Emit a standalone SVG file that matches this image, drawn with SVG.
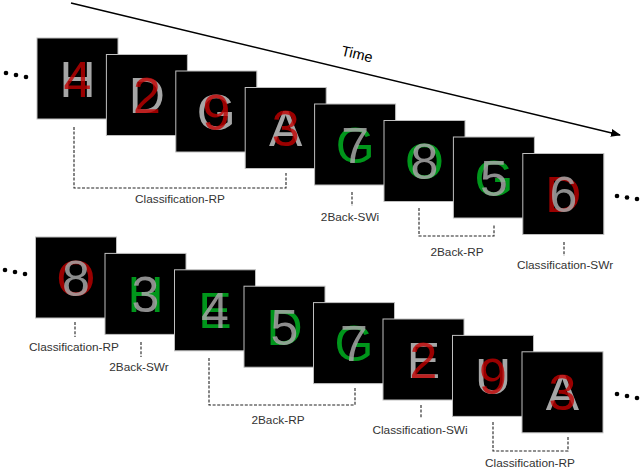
<svg xmlns="http://www.w3.org/2000/svg" width="641" height="471" viewBox="0 0 641 471">
<style>
.sq{fill:#000;stroke:#bfbfbf;stroke-width:1}
.g{font-family:"Liberation Sans",Arial,sans-serif;font-size:50px;fill:#a6a6a6;text-anchor:middle}
.r{font-family:"Liberation Sans",Arial,sans-serif;font-size:50px;fill:#c00000;fill-opacity:0.8;text-anchor:middle}
.gr{font-family:"Liberation Sans",Arial,sans-serif;font-size:50px;fill:#00b020;fill-opacity:0.85;text-anchor:middle}
.lbl{font-family:"Liberation Sans",Arial,sans-serif;font-size:11.8px;fill:#333;text-anchor:middle}
.d{fill:none;stroke:#222;stroke-width:1.1;stroke-dasharray:3,1.6}
.dot{fill:#000}
</style>
<defs>
<marker id="ah" markerWidth="10" markerHeight="8" refX="9" refY="4" orient="auto" markerUnits="userSpaceOnUse">
<path d="M0,0 L10,4 L0,8 z" fill="#000"/>
</marker>
</defs>
<rect width="641" height="471" fill="#fff"/>
<g id="time-arrow">
<line x1="71" y1="3" x2="620" y2="135" stroke="#000" stroke-width="1.5" marker-end="url(#ah)"/>
<text x="357" y="59" transform="rotate(13.5 357 54)" font-family="Liberation Sans,Arial,sans-serif" font-size="14.5" fill="#000" text-anchor="middle">Time</text>
</g>
<g id="dots">
<circle class="dot" cx="6" cy="73" r="2.3"/><circle class="dot" cx="16" cy="75" r="2.3"/><circle class="dot" cx="26" cy="77" r="2.3"/>
<circle class="dot" cx="617" cy="196" r="2.3"/><circle class="dot" cx="627" cy="197.5" r="2.3"/><circle class="dot" cx="637" cy="199" r="2.3"/>
<circle class="dot" cx="5" cy="270" r="2.3"/><circle class="dot" cx="15" cy="272" r="2.3"/><circle class="dot" cx="25" cy="274" r="2.3"/>
<circle class="dot" cx="617" cy="394" r="2.3"/><circle class="dot" cx="627" cy="396" r="2.3"/><circle class="dot" cx="637" cy="398" r="2.3"/>
</g>
<g id="t1"><rect class="sq" x="37" y="38" width="81" height="81"/><text class="g" x="77.5" y="96.5">H</text><text class="r" x="77.5" y="96.5">4</text></g>
<g id="t2"><rect class="sq" x="106.4" y="54.5" width="81" height="81"/><text class="g" x="146.9" y="113">D</text><text class="r" x="146.9" y="113">2</text></g>
<g id="t3"><rect class="sq" x="175.8" y="71" width="81" height="81"/><text class="g" x="216.3" y="129.5">G</text><text class="r" x="216.3" y="129.5">9</text></g>
<g id="t4"><rect class="sq" x="245.2" y="87.5" width="81" height="81"/><text class="g" x="285.7" y="146">A</text><text class="r" x="285.7" y="146">3</text></g>
<g id="t5"><rect class="sq" x="314.6" y="104" width="81" height="81"/><text class="gr" x="355.1" y="162.5">G</text><text class="g" x="355.1" y="162.5" fill-opacity="0.85">7</text></g>
<g id="t6"><rect class="sq" x="384" y="120.5" width="81" height="81"/><text class="gr" x="424.5" y="179">O</text><text class="g" x="424.5" y="179" fill-opacity="0.85">8</text></g>
<g id="t7"><rect class="sq" x="453.4" y="137" width="81" height="81"/><text class="gr" x="493.9" y="195.5">G</text><text class="g" x="493.9" y="195.5" fill-opacity="0.85">5</text></g>
<g id="t8"><rect class="sq" x="522.8" y="153.5" width="81" height="81"/><text class="r" x="563.3" y="212">D</text><text class="g" x="563.3" y="212" fill-opacity="0.85">6</text></g>
<g id="b1"><rect class="sq" x="35.5" y="237" width="81" height="81"/><text class="r" x="76" y="295.5">O</text><text class="g" x="76" y="295.5" fill-opacity="0.85">8</text></g>
<g id="b2"><rect class="sq" x="105" y="253.4" width="81" height="81"/><text class="gr" x="145.5" y="311.9">H</text><text class="g" x="145.5" y="311.9" fill-opacity="0.85">3</text></g>
<g id="b3"><rect class="sq" x="174.5" y="269.8" width="81" height="81"/><text class="gr" x="215" y="328.3">E</text><text class="g" x="215" y="328.3" fill-opacity="0.85">4</text></g>
<g id="b4"><rect class="sq" x="244" y="286.2" width="81" height="81"/><text class="gr" x="284.5" y="344.7">D</text><text class="g" x="284.5" y="344.7" fill-opacity="0.85">5</text></g>
<g id="b5"><rect class="sq" x="313.5" y="302.6" width="81" height="81"/><text class="gr" x="354" y="361.1">G</text><text class="g" x="354" y="361.1" fill-opacity="0.85">7</text></g>
<g id="b6"><rect class="sq" x="383" y="319" width="81" height="81"/><text class="g" x="423.5" y="377.5">E</text><text class="r" x="423.5" y="377.5">2</text></g>
<g id="b7"><rect class="sq" x="452.5" y="335.4" width="81" height="81"/><text class="g" x="493" y="393.9">U</text><text class="r" x="493" y="393.9">9</text></g>
<g id="b8"><rect class="sq" x="522" y="351.8" width="81" height="81"/><text class="g" x="562.5" y="410.3">A</text><text class="r" x="562.5" y="410.3">3</text></g>
<g id="connectors">
<path class="d" d="M74,127 V188 H286 V173"/>
<path class="d" d="M352,192 V206"/>
<path class="d" d="M419,208 V236 H494 V224"/>
<path class="d" d="M564,242 V256"/>
<path class="d" d="M75,322 V337"/>
<path class="d" d="M141,342 V357"/>
<path class="d" d="M209,358 V405 H355 V388"/>
<path class="d" d="M421,405 V418"/>
<path class="d" d="M493,422 V451 H568 V437"/>
</g>
<g id="labels">
<text class="lbl" x="180" y="203">Classification-RP</text>
<text class="lbl" x="350" y="221">2Back-SWi</text>
<text class="lbl" x="457" y="256">2Back-RP</text>
<text class="lbl" x="565" y="269">Classification-SWr</text>
<text class="lbl" x="74" y="351">Classification-RP</text>
<text class="lbl" x="139" y="371">2Back-SWr</text>
<text class="lbl" x="278" y="424">2Back-RP</text>
<text class="lbl" x="420" y="434">Classification-SWi</text>
<text class="lbl" x="530" y="467">Classification-RP</text>
</g>
</svg>
